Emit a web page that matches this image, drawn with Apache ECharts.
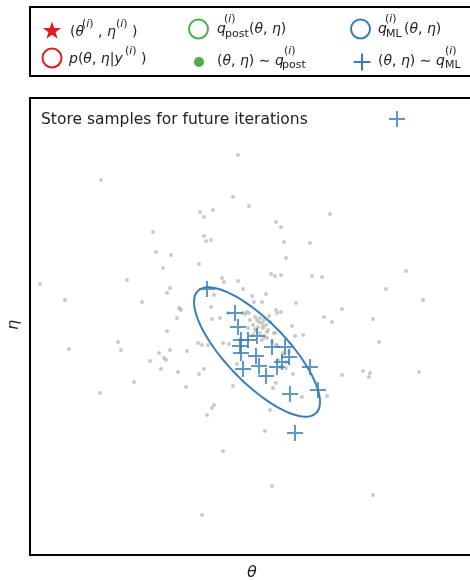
<!DOCTYPE html>
<html><head><meta charset="utf-8">
<script src="https://cdn.jsdelivr.net/npm/echarts@6/dist/echarts.min.js"></script>
<style>html,body{margin:0;padding:0;background:#fff}#c{width:470px;height:580px}</style>
</head><body><div id="c"></div>
<script>
// theta / eta coordinates (plot units)
const postSamples = [
[238,155],[101,180],[233,197],[249,206],[200,212],[213,210],[204,217],[330,214],[153,232],[276,222],[281,227],[204,236],[206,241],[211,240],[284,242],[310,243],[156,252],[171,255],[286,258],[199,264],[163,268],[271,274],[275,276],[281,275],[312,276],[322,277],[406,271],[222,278],[224,282],[238,281],[127,280],[40,284],[170,288],[243,289],[386,289],[423,300],[266,294],[262,302],[296,303],[342,309],[276,310],[281,312],[269,316],[324,317],[332,322],[373,319],[292,326],[303,335],[295,336],[379,342],[289,352],[342,375],[363,371],[370,373],[369,377],[419,372],[293,374],[276,383],[273,388],[302,397],[327,396],
[65,300],[142,302],[167,293],[179,308],[181,310],[177,318],[167,331],[118,342],[121,350],[69,349],[159,353],[170,350],[187,351],[164,358],[166,360],[150,361],[161,369],[178,372],[199,374],[134,382],[186,387],[198,343],[100,393],[204,369],[202,345],[208,345],[223,343],[229,344],[237,364],[233,386],[214,405],[212,408],[207,415],[223,451],[202,515],[272,486],[373,495],[265,431],[270,410],
[214,295],[252,296],[254,302],[211,307],[228,313],[212,319],[220,318],[243,313],[249,313],[255,317],[257,320],[260,318],[264,320],[253,325],[258,327],[255,329],[263,328],[268,330],[260,333],[253,335],[274,333],[267,338],[272,342],[277,345],[283,353],[278,360],[286,362],[280,367],[286,368],[180,309],
[262,323],[266,325],[259,322],[250,320],[270,322],[256,331],[264,336],[248,328],[262,340],[245,314],[247,312],[277,313],[263,326],[267,332],[275,333],[265,337],[276,345]
];
const mlSamples = [
[207,289],[235,313],[238,327],[241,340],[248,340],[257,336],[240,346],[241,353],[256,356],[272,347],[285,347],[289,357],[243,369],[259,366],[266,376],[277,367],[282,362],[310,367],[318,390],[290,394],[295,433],[397,119]
];
const mlCenter = [257, 352];
const mlSemiAxes = [85, 30.5];
const mlAngleDeg = 46;

const BLUE = '#377eb8', RED = '#e41a1c', GREEN = '#4daf4a', TXT = '#222';
const FONT = 'DejaVu Sans';

// ellipse contour of q_ML
const ell = [];
const ang = mlAngleDeg * Math.PI / 180;
for (let k = 0; k <= 180; k++) {
  const t = 2 * Math.PI * k / 180;
  const ux = mlSemiAxes[0] * Math.cos(t), uy = mlSemiAxes[1] * Math.sin(t);
  ell.push([mlCenter[0] + ux * Math.cos(ang) - uy * Math.sin(ang),
            mlCenter[1] + ux * Math.sin(ang) + uy * Math.cos(ang)]);
}

const rich = {
  n: {fontFamily: FONT, fontSize: 14, color: TXT},
  i: {fontFamily: FONT, fontSize: 14, color: TXT, fontStyle: 'italic'},
  sn: {fontFamily: FONT, fontSize: 11, color: TXT},
  si: {fontFamily: FONT, fontSize: 11, color: TXT, fontStyle: 'italic'}
};
function tx(x, y, str) {
  return {type: 'text', x: x, y: y, style: {text: str, rich: rich, fontFamily: FONT, fontSize: 14, fill: TXT, verticalAlign: 'middle'}, z: 20};
}
const SUP = '{sn|(}{si|i}{sn|)}';

function star(cx, cy, R, r) {
  const pts = [];
  for (let k = 0; k < 10; k++) {
    const a = -Math.PI / 2 + k * Math.PI / 5;
    const rad = k % 2 === 0 ? R : r;
    pts.push([cx + rad * Math.cos(a), cy + rad * Math.sin(a)]);
  }
  return pts;
}

const graphics = [
  {type: 'rect', shape: {x: 30, y: 7, width: 460, height: 69}, style: {fill: 'none', stroke: '#000', lineWidth: 2}, z: 10},
  // plot frame (right side lies outside the picture)
  {type: 'line', shape: {x1: 30, y1: 97, x2: 30, y2: 556}, style: {stroke: '#000', lineWidth: 2}, z: 10},
  {type: 'line', shape: {x1: 29, y1: 98, x2: 480, y2: 98}, style: {stroke: '#000', lineWidth: 2}, z: 10},
  {type: 'line', shape: {x1: 29, y1: 555, x2: 480, y2: 555}, style: {stroke: '#000', lineWidth: 2}, z: 10},
  {type: 'polygon', shape: {points: star(52, 31, 9.5, 3.8)}, style: {fill: RED}, z: 20},
  {type: 'circle', shape: {cx: 52, cy: 58, r: 9.5}, style: {fill: 'none', stroke: RED, lineWidth: 2}, z: 20},
  {type: 'circle', shape: {cx: 198.5, cy: 29, r: 9.5}, style: {fill: 'none', stroke: GREEN, lineWidth: 2}, z: 20},
  {type: 'circle', shape: {cx: 199, cy: 62, r: 5}, style: {fill: GREEN}, z: 20},
  {type: 'circle', shape: {cx: 360.5, cy: 29, r: 9.5}, style: {fill: 'none', stroke: BLUE, lineWidth: 2}, z: 20},
  {type: 'line', shape: {x1: 353.5, y1: 62, x2: 370.5, y2: 62}, style: {stroke: BLUE, lineWidth: 2}, z: 20},
  {type: 'line', shape: {x1: 362, y1: 53.5, x2: 362, y2: 70.5}, style: {stroke: BLUE, lineWidth: 2}, z: 20},
  // row 1 col 1
  tx(70, 32, '{n|(}{i|θ}'), tx(82, 24, SUP), tx(98, 32, '{n|, }{i|η}'), tx(116, 24, SUP), tx(132, 32, '{n|)}'),
  // row 1 col 2
  tx(217, 29, '{i|q}'), tx(224, 19, SUP), tx(225, 34, '{sn|post}'), tx(249, 29, '{n|(}{i|θ}{n|, }{i|η}{n|)}'),
  // row 1 col 3
  tx(378, 29, '{i|q}'), tx(385, 19, SUP), tx(386, 34, '{sn|ML}'), tx(404, 29, '{n|(}{i|θ}{n|, }{i|η}{n|)}'),
  // row 2 col 1
  tx(69, 59, '{i|p}{n|(}{i|θ}{n|, }{i|η}{n||}{i|y}'), tx(125, 51, SUP), tx(141, 59, '{n|)}'),
  // row 2 col 2
  tx(217, 61, '{n|(}{i|θ}{n|, }{i|η}{n|) ∼ }{i|q}'), tx(284, 51, SUP), tx(282, 65, '{sn|post}'),
  // row 2 col 3
  tx(378, 61, '{n|(}{i|θ}{n|, }{i|η}{n|) ∼ }{i|q}'), tx(445, 51, SUP), tx(445, 65, '{sn|ML}'),
  // annotation
  {type: 'text', x: 41, y: 120, style: {text: 'Store samples for future iterations', fontFamily: FONT, fontSize: 15.5, fill: TXT, verticalAlign: 'middle'}, z: 20},
  // axis labels
  {type: 'text', x: 252, y: 573, style: {text: 'θ', fontFamily: FONT, fontSize: 16, fontStyle: 'italic', fill: TXT, align: 'center', verticalAlign: 'middle'}, z: 20},
  {type: 'text', x: 14, y: 325, rotation: Math.PI / 2, style: {text: 'η', fontFamily: FONT, fontSize: 16, fontStyle: 'italic', fill: TXT, align: 'center', verticalAlign: 'middle'}, z: 20}
];

const chart = echarts.init(document.getElementById('c'), null, {renderer: 'canvas'});
chart.setOption({
  animation: false,
  backgroundColor: '#fff',
  grid: {left: 30, top: 98, right: 0, height: 457, show: false, containLabel: false},
  xAxis: {type: 'value', min: 30, max: 470, show: false},
  yAxis: {type: 'value', min: 98, max: 555, inverse: true, show: false},
  series: [
    {type: 'scatter', data: postSamples, symbol: 'circle', symbolSize: 4, itemStyle: {color: '#bbbbbb'}, z: 2, silent: true},
    {type: 'line', data: ell, showSymbol: false, symbol: 'none', lineStyle: {color: BLUE, width: 2}, z: 3, silent: true},
    {type: 'scatter', data: mlSamples, symbol: 'path://M8,0L8,16M0,8L16,8', symbolSize: 16,
     itemStyle: {color: 'none', borderColor: BLUE, borderWidth: 2}, z: 4, silent: true}
  ],
  graphic: graphics
});
</script></body></html>
